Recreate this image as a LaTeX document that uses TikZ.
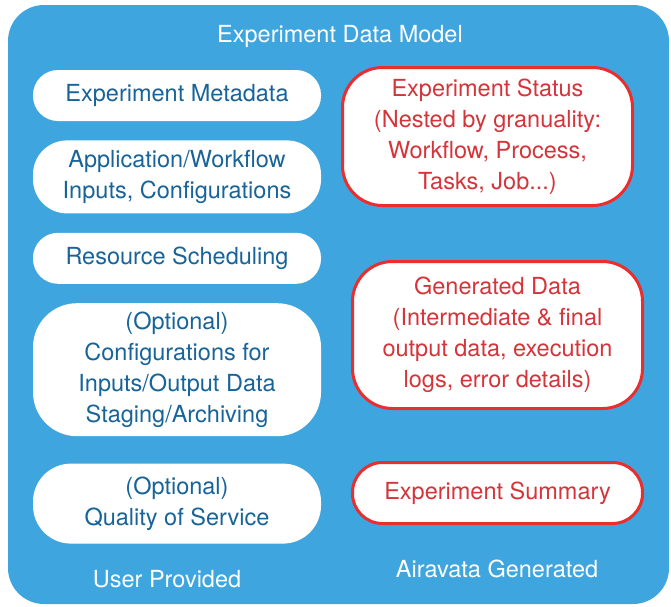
\documentclass[tikz,border=0pt]{standalone}
\usepackage{fontspec}
\setmainfont{TeX Gyre Heros}
\usepackage{tikz}
\usetikzlibrary{positioning}

\definecolor{modelblue}{RGB}{62,165,222}
\definecolor{userblue}{RGB}{24,100,152}
\definecolor{genred}{RGB}{212,52,58}
\definecolor{genborder}{RGB}{234,46,46}

\begin{document}
\begin{tikzpicture}[x=1pt,y=-1pt,node distance=19pt]
  \tikzstyle{model}=[fill=modelblue,rounded corners=36pt,inner sep=0pt,
              minimum width=661pt,minimum height=599pt]
  \tikzstyle{caption}=[text=white,font=\fontsize{23.5}{30}\selectfont]
  \tikzstyle{user}=[fill=white,text=userblue,align=center,inner sep=0pt,
              minimum width=288pt,font=\fontsize{23.5}{31}\selectfont]
  \tikzstyle{generated}=[fill=white,draw=genborder,line width=3pt,text=genred,
              align=center,inner sep=0pt,minimum width=290pt,
              font=\fontsize{23.5}{31}\selectfont]
  \useasboundingbox (0,0) rectangle (671,606);
    \node [model] (dm) at (338.5,304.5) {};
    \node [caption] (title) at (340,36) {Experiment Data Model};
    % user provided column
    \node [user,minimum height=51pt,rounded corners=25pt] (meta) at (177,95.5) {Experiment Metadata};
    \node [user,minimum height=73pt,rounded corners=34pt,below=of meta] (inputs)
          {Application/Workflow\\Inputs, Configurations};
    \node [user,minimum height=51pt,rounded corners=25pt,below=of inputs] (sched) {Resource Scheduling};
    \node [user,minimum height=133pt,rounded corners=44pt,below=of sched] (staging)
          {(Optional)\\Configurations for\\Inputs/Output Data\\Staging/Archiving};
    \node [user,minimum height=80pt,rounded corners=38pt,below=27pt of staging] (qos)
          {(Optional)\\Quality of Service};
    \node [caption] (usr) at (167,579) {User Provided};
    % airavata generated column
    \node [generated,minimum height=138pt,rounded corners=40pt] (status) at (487.5,136.5)
          {Experiment Status\\(Nested by granuality:\\Workflow, Process,\\Tasks, Job...)};
    \node [generated,minimum height=147pt,rounded corners=40pt] (gendata) at (497.5,335)
          {Generated Data\\(Intermediate \& final\\output data, execution\\logs, error details)};
    \node [generated,minimum height=61pt,rounded corners=30pt] (summary) at (497.5,493)
          {Experiment Summary};
    \node [caption] (gen) at (497,569) {Airavata Generated};
\end{tikzpicture}
\end{document}
